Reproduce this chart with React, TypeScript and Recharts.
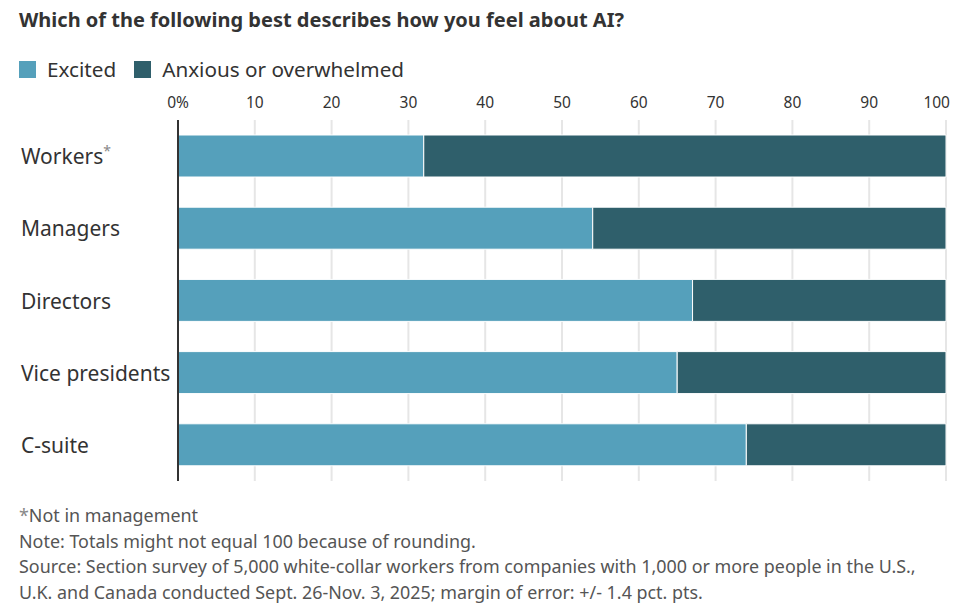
import React from "react";
import { BarChart, Bar, XAxis, YAxis, CartesianGrid, ReferenceLine } from "recharts";

const categories = ["Workers", "Managers", "Directors", "Vice presidents", "C-suite"];
const excited = [32, 54, 67, 65, 74];
const anxious = [68, 46, 33, 35, 26];
const xTicks = [0, 10, 20, 30, 40, 50, 60, 70, 80, 90, 100];

const data = categories.map((name, i) => ({ name, excited: excited[i], anxious: anxious[i] }));

const FONT = "'Noto Sans', 'Open Sans', sans-serif";
const EXC = "#55a0bb";
const ANX = "#2f5f6b";

const XTick = (props: any) => {
  const { x, y, payload } = props;
  const v = payload.value;
  const label = v === 0 ? "0%" : String(v);
  const anchor = v === 100 ? "end" : "middle";
  const dx = v === 100 ? 4 : 0;
  return (
    <text x={x + dx} y={y} dy={-4} textAnchor={anchor} fill="#333" fontSize={15.5} fontFamily={FONT}>
      {label}
    </text>
  );
};

const YTick = (props: any) => {
  const { y, payload } = props;
  const isWorkers = payload.value === "Workers";
  return (
    <text x={21} y={y} dy={8} textAnchor="start" fill="#333" fontSize={21} fontFamily={FONT}>
      {payload.value}
      {isWorkers ? (
        <tspan fill="#888" fontSize={14} dy={-8}>*</tspan>
      ) : null}
    </text>
  );
};

export default function App() {
  return (
    <div style={{ position: "absolute", left: 0, top: 0, width: 961, height: 612, background: "#fff", fontFamily: FONT, color: "#333" }}>
      <div style={{ position: "absolute", left: 19, top: 6, fontSize: 20, fontWeight: 700, color: "#333" }}>
        Which of the following best describes how you feel about AI?
      </div>
      <div style={{ position: "absolute", left: 19, top: 55, display: "flex", alignItems: "center", fontSize: 20.7, color: "#333" }}>
        <span style={{ display: "inline-block", width: 17, height: 17, background: EXC, marginRight: 11 }} />
        <span style={{ marginRight: 18 }}>Excited</span>
        <span style={{ display: "inline-block", width: 17, height: 17, background: ANX, marginRight: 11 }} />
        <span>Anxious or overwhelmed</span>
      </div>
      <div style={{ position: "absolute", left: 0, top: 0 }}>
        <BarChart
          width={961}
          height={612}
          data={data}
          layout="vertical"
          margin={{ top: 90, right: 15, bottom: 131, left: 0 }}
          barCategoryGap={0}
        >
          <CartesianGrid horizontal={false} vertical={true} stroke="#e6e6e6" strokeWidth={2} />
          <XAxis
            type="number"
            orientation="top"
            domain={[0, 100]}
            ticks={xTicks}
            axisLine={false}
            tickLine={false}
            height={30}
            tick={<XTick />}
            interval={0}
          />
          <YAxis
            type="category"
            dataKey="name"
            width={178}
            axisLine={false}
            tickLine={false}
            tick={<YTick />}
          />
          <Bar dataKey="excited" stackId="a" fill={EXC} stroke="#fff" strokeWidth={1} barSize={42} isAnimationActive={false} />
          <Bar dataKey="anxious" stackId="a" fill={ANX} stroke="#fff" strokeWidth={1} barSize={42} isAnimationActive={false} />
          <ReferenceLine x={0} stroke="#333" strokeWidth={2} />
        </BarChart>
      </div>
      <div style={{ position: "absolute", left: 19, top: 503, fontSize: 17.9, lineHeight: "25.7px", color: "#555" }}>
        <div><span style={{ color: "#888" }}>*</span>Not in management</div>
        <div>Note: Totals might not equal 100 because of rounding.</div>
        <div>Source: Section survey of 5,000 white-collar workers from companies with 1,000 or more people in the U.S.,</div>
        <div>U.K. and Canada conducted Sept. 26-Nov. 3, 2025; margin of error: +/- 1.4 pct. pts.</div>
      </div>
    </div>
  );
}
